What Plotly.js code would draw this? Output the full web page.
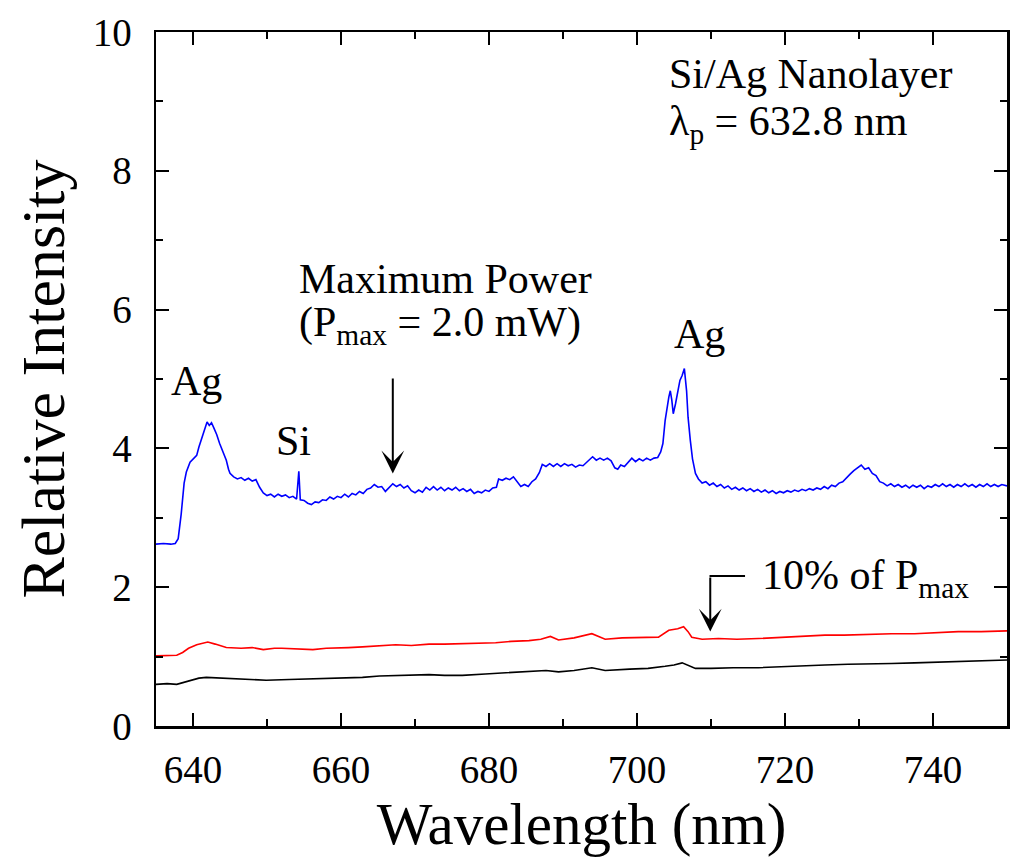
<!DOCTYPE html>
<html>
<head>
<meta charset="utf-8">
<script src="https://cdn.plot.ly/plotly-3.0.1.min.js"></script>
<style>html,body{margin:0;padding:0;background:#fff;}#chart{width:1010px;height:859px;}</style>
</head>
<body>
<div id="chart"></div>
<script>
// ---- Data: [wavelength (nm), relative intensity] ----
const spectrumMaxPower = [
[635.0,2.62],[636.0,2.63],[637.0,2.62],[637.6,2.63],[638.0,2.70],[638.4,3.05],[638.8,3.50],[639.1,3.66],[639.6,3.80],[640.0,3.84],
[640.5,3.90],[640.8,4.02],[641.2,4.16],[641.6,4.30],[641.9,4.38],[642.2,4.33],[642.5,4.37],[642.8,4.30],[643.2,4.20],[643.6,4.07],
[644.0,3.97],[644.5,3.83],[644.8,3.70],[645.0,3.64],[645.5,3.59],[646.0,3.56],[646.5,3.58],[647.0,3.54],[647.5,3.57],[648.0,3.53],
[648.5,3.55],[649.0,3.44],[649.5,3.36],[650.0,3.32],[650.5,3.34],[651.0,3.30],[651.5,3.34],[652.0,3.31],[652.5,3.33],[653.0,3.29],
[653.5,3.31],[654.0,3.27],[654.3,3.67],[654.5,3.26],[655.0,3.25],[655.5,3.21],[656.0,3.19],[656.5,3.23],[657.0,3.22],[657.5,3.26],
[658.0,3.25],[658.5,3.30],[659.0,3.27],[659.5,3.31],[660.0,3.29],[660.5,3.34],[661.0,3.30],[661.5,3.35],[662.0,3.33],[662.5,3.38],
[663.0,3.35],[663.5,3.41],[664.0,3.43],[664.5,3.48],[665.0,3.44],[665.5,3.45],[666.0,3.38],[666.5,3.44],[667.0,3.49],[667.5,3.45],
[668.0,3.48],[668.5,3.43],[669.0,3.46],[669.5,3.39],[670.0,3.36],[670.5,3.40],[671.0,3.37],[671.5,3.44],[672.0,3.40],[672.5,3.45],
[673.0,3.40],[673.5,3.44],[674.0,3.39],[674.5,3.43],[675.0,3.40],[675.5,3.44],[676.0,3.39],[676.5,3.42],[677.0,3.38],[677.5,3.41],
[678.0,3.35],[678.5,3.38],[679.0,3.36],[679.5,3.40],[680.0,3.38],[680.5,3.43],[681.0,3.44],[681.3,3.56],[681.8,3.54],[682.3,3.57],
[682.8,3.55],[683.3,3.59],[683.8,3.52],[684.3,3.45],[684.8,3.48],[685.3,3.45],[685.8,3.52],[686.3,3.56],[686.8,3.65],[687.2,3.77],
[687.7,3.74],[688.2,3.78],[688.7,3.74],[689.2,3.78],[689.7,3.74],[690.2,3.78],[690.7,3.75],[691.2,3.77],[691.7,3.73],[692.2,3.76],
[692.7,3.75],[693.2,3.80],[693.7,3.84],[694.0,3.88],[694.5,3.83],[695.0,3.86],[695.5,3.83],[696.0,3.86],[696.5,3.82],[697.0,3.72],
[697.4,3.70],[697.8,3.76],[698.3,3.74],[698.8,3.80],[699.3,3.86],[699.8,3.81],[700.3,3.85],[700.8,3.82],[701.3,3.86],[701.8,3.83],
[702.3,3.86],[702.8,3.87],[703.2,3.95],[703.5,4.07],[703.8,4.40],[704.3,4.74],[704.5,4.83],[704.7,4.70],[704.9,4.50],[705.2,4.64],
[705.5,4.80],[705.8,4.98],[706.1,5.05],[706.4,5.15],[706.7,4.83],[706.9,4.45],[707.2,4.12],[707.5,3.85],[707.9,3.64],[708.3,3.56],
[708.8,3.50],[709.3,3.52],[709.8,3.47],[710.3,3.50],[710.8,3.45],[711.3,3.48],[711.8,3.43],[712.3,3.46],[712.8,3.41],[713.3,3.44],
[713.8,3.40],[714.3,3.43],[714.8,3.39],[715.3,3.42],[715.8,3.38],[716.3,3.41],[716.8,3.37],[717.3,3.40],[717.8,3.36],[718.3,3.39],
[718.8,3.35],[719.3,3.38],[719.8,3.36],[720.3,3.39],[720.8,3.37],[721.3,3.40],[721.8,3.38],[722.3,3.41],[722.8,3.39],[723.3,3.42],
[723.8,3.40],[724.3,3.43],[724.8,3.41],[725.3,3.45],[725.8,3.42],[726.3,3.47],[726.8,3.45],[727.3,3.50],[727.8,3.52],[728.3,3.58],
[728.8,3.63],[729.3,3.68],[729.8,3.72],[730.3,3.76],[730.8,3.70],[731.3,3.72],[731.8,3.64],[732.3,3.61],[732.8,3.52],[733.3,3.50],
[733.8,3.46],[734.3,3.49],[734.8,3.45],[735.3,3.48],[735.8,3.44],[736.3,3.47],[736.8,3.43],[737.3,3.47],[737.8,3.44],[738.3,3.47],
[738.8,3.42],[739.3,3.46],[739.8,3.44],[740.3,3.48],[740.8,3.45],[741.3,3.49],[741.8,3.45],[742.3,3.48],[742.8,3.44],[743.3,3.48],
[743.8,3.45],[744.3,3.49],[744.8,3.45],[745.3,3.48],[745.8,3.44],[746.3,3.48],[746.8,3.45],[747.3,3.49],[747.8,3.45],[748.3,3.48],
[748.8,3.45],[749.3,3.48],[750.0,3.46]
];

const spectrum10Percent = [
[635.0,1.01],[636.5,1.01],[637.8,1.02],[638.6,1.06],[639.4,1.12],[640.5,1.17],[641.3,1.19],[642.0,1.21],[643.0,1.18],[644.5,1.13],
[646.5,1.12],[648.0,1.13],[649.5,1.10],[651.0,1.12],[652.0,1.12],[654.0,1.11],[656.2,1.10],[658.0,1.12],[659.5,1.12],[661.0,1.13],
[662.9,1.14],[665.0,1.15],[667.4,1.17],[669.5,1.16],[671.9,1.18],[674.0,1.18],[676.4,1.19],[678.5,1.19],[680.9,1.20],[683.0,1.22],
[685.4,1.23],[687.0,1.25],[688.3,1.29],[689.4,1.24],[691.5,1.27],[693.9,1.33],[695.7,1.25],[698.0,1.27],[700.5,1.27],[702.9,1.28],
[704.3,1.38],[705.5,1.40],[706.3,1.43],[706.9,1.36],[707.4,1.28],[708.8,1.25],[711.0,1.26],[713.5,1.25],[716.4,1.26],[720.0,1.28],
[722.5,1.29],[725.4,1.31],[728.0,1.31],[730.5,1.32],[734.4,1.33],[737.5,1.33],[740.5,1.35],[743.4,1.36],[746.5,1.36],[750.0,1.37]
];

const spectrumLowPower = [
[635.0,0.60],[636.5,0.61],[637.8,0.60],[638.7,0.63],[639.6,0.66],[640.8,0.69],[641.8,0.70],[643.5,0.69],[645.0,0.68],[647.5,0.67],
[649.9,0.66],[653.0,0.67],[656.2,0.68],[659.5,0.69],[662.9,0.70],[665.2,0.72],[668.5,0.73],[671.9,0.74],[674.0,0.73],[676.4,0.73],
[679.5,0.75],[682.3,0.77],[685.0,0.78],[687.7,0.80],[689.4,0.78],[691.5,0.80],[693.9,0.84],[695.7,0.80],[699.0,0.82],[701.5,0.83],
[703.8,0.86],[705.0,0.88],[706.1,0.91],[707.0,0.87],[707.9,0.83],[710.0,0.83],[713.0,0.84],[716.4,0.84],[720.0,0.86],[722.5,0.87],
[725.4,0.88],[728.5,0.89],[731.0,0.89],[734.4,0.90],[737.5,0.91],[740.5,0.92],[743.4,0.93],[746.5,0.94],[750.0,0.95]
];

const xTickVals = [640,660,680,700,720,740];
const xMinorVals = [650,670,690,710,730];
const yTickVals = [0,2,4,6,8,10];
const yMinorVals = [1,3,5,7,9];

const FONT = 'Liberation Serif, Times New Roman, Times, serif';

const mk = (data, color) => ({
  x: data.map(p => p[0]), y: data.map(p => p[1]),
  mode: 'lines', line: {color: color, width: 1.6}, hoverinfo: 'skip'
});

const traces = [
  mk(spectrumLowPower, '#000000'),
  mk(spectrum10Percent, '#ff0000'),
  mk(spectrumMaxPower, '#0000ff')
];

const txt = (text, x, y, xanchor) => ({
  text: text, x: x, y: y, xref: 'x', yref: 'y', showarrow: false,
  xanchor: xanchor || 'center', yanchor: 'middle',
  font: {family: FONT, size: 42, color: '#000'}
});

const annotations = [
  txt('Ag', 640.5, 4.97),
  txt('Si', 653.6, 4.11),
  txt('Ag', 708.5, 5.65),
  txt('Maximum Power', 654.0, 6.44, 'left'),
  txt('(P<sub>max</sub> = 2.0 mW)', 654.0, 5.78, 'left'),
  txt('Si/Ag Nanolayer', 704.0, 9.39, 'left'),
  txt('λ<sub>p</sub> = 632.8 nm', 704.0, 8.67, 'left'),
  txt('10% of P<sub>max</sub>', 716.6, 2.13, 'left'),
  {text: '', x: 667.0, y: 3.64, ax: 667.0, ay: 5.03, xref: 'x', yref: 'y', axref: 'x', ayref: 'y',
   showarrow: true, arrowhead: 3, arrowsize: 1.9, arrowwidth: 2, arrowcolor: '#000', standoff: 0, startstandoff: 0},
  {text: '', x: 709.9, y: 1.36, ax: 709.9, ay: 2.163, xref: 'x', yref: 'y', axref: 'x', ayref: 'y',
   showarrow: true, arrowhead: 3, arrowsize: 1.9, arrowwidth: 2, arrowcolor: '#000', standoff: 0, startstandoff: 0}
];

const shapes = [
  {type: 'line', xref: 'x', yref: 'y', x0: 709.8, x1: 714.6, y0: 2.163, y1: 2.163, line: {color: '#000', width: 2}}
];

const layout = {
  width: 1010, height: 859,
  margin: {l: 156, r: 3, t: 32, b: 133},
  paper_bgcolor: '#fff', plot_bgcolor: '#fff',
  showlegend: false,
  font: {family: FONT, color: '#000'},
  xaxis: {
    range: [635, 750], tickmode: 'array', tickvals: xTickVals, ticktext: xTickVals.map(String),
    ticks: 'inside', ticklen: 13, tickwidth: 2, tickcolor: '#000',
    showline: true, linewidth: 2.5, linecolor: '#000', mirror: 'ticks',
    showgrid: false, zeroline: false,
    minor: {tickmode: 'array', tickvals: xMinorVals, ticks: 'inside', ticklen: 7, tickwidth: 2, tickcolor: '#000', showgrid: false},
    tickfont: {family: FONT, size: 39, color: '#000'},
    ticklabelstandoff: 8,
    title: {text: 'Wavelength (nm)', font: {family: FONT, size: 59, color: '#000'}, standoff: 8},
    automargin: false
  },
  yaxis: {
    range: [0, 10], tickmode: 'array', tickvals: yTickVals, ticktext: yTickVals.map(String),
    ticks: 'inside', ticklen: 13, tickwidth: 2, tickcolor: '#000',
    showline: true, linewidth: 2.5, linecolor: '#000', mirror: 'ticks',
    showgrid: false, zeroline: false,
    minor: {tickmode: 'array', tickvals: yMinorVals, ticks: 'inside', ticklen: 7, tickwidth: 2, tickcolor: '#000', showgrid: false},
    tickfont: {family: FONT, size: 39, color: '#000'},
    ticklabelstandoff: 14,
    title: {text: 'Relative Intensity', font: {family: FONT, size: 62, color: '#000'}, standoff: 8},
    automargin: false
  },
  annotations: annotations,
  shapes: shapes
};

Plotly.newPlot('chart', traces, layout, {staticPlot: true, displayModeBar: false});
</script>
</body>
</html>
